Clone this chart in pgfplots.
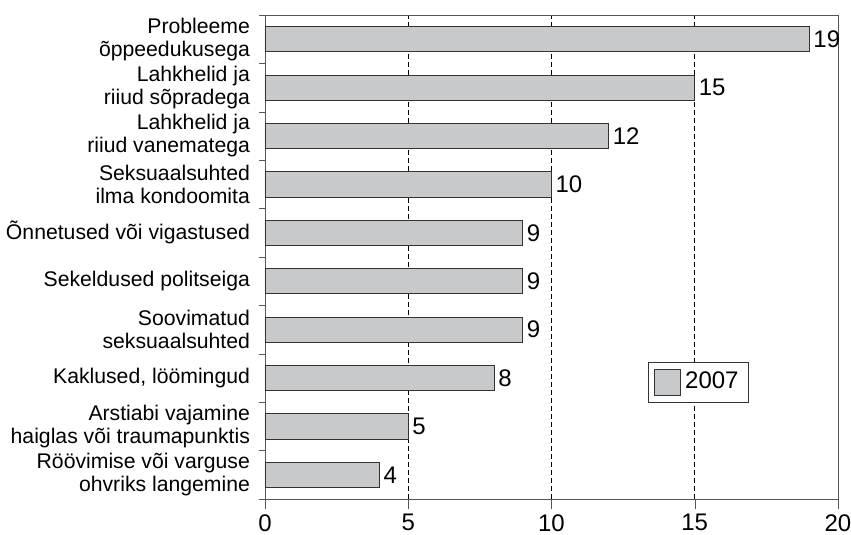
\documentclass[border=0pt]{standalone}
\usepackage{pgfplots}
\pgfplotsset{compat=1.18}
\usepackage{fontspec}
\setmainfont{Liberation Sans}
\definecolor{barfill}{RGB}{200,201,202}
\definecolor{frame}{RGB}{85,85,85}
\begin{document}
\begin{tikzpicture}
\begin{axis}[
  scale only axis,
  width=286.5pt, height=242pt,
  xmin=0, xmax=20,
  ymin=-0.5, ymax=9.5,
  xtick={0,5,...,20},
  xmajorgrids,
  major grid style={black, dash pattern=on 2.5pt off 1.5pt},
  axis line style={frame},
  major tick length=5pt,
  xtick style={frame},
  tick align=outside,
  xtick pos=bottom,
  ytick={0,...,9},
  ytick style={draw=none},
  yticklabels={{Röövimise või varguse\\ohvriks langemine},
               {Arstiabi vajamine\\haiglas või traumapunktis},
               {Kaklused, löömingud},
               {Soovimatud\\seksuaalsuhted},
               {Sekeldused politseiga},
               {Õnnetused või vigastused},
               {Seksuaalsuhted\\ilma kondoomita},
               {Lahkhelid ja\\riiud vanematega},
               {Lahkhelid ja\\riiud sõpradega},
               {Probleeme\\õppeedukusega}},
  yticklabel style={align=right, font=\fontsize{10.6}{11.5}\selectfont, xshift=1pt},
  xticklabel style={font=\fontsize{12}{13}\selectfont, inner sep=0pt, yshift=-2.5pt},
  /pgf/number format/assume math mode=true,
  extra y ticks={-0.5,0.5,...,9.5},
  extra y tick labels={},
  extra y tick style={major tick length=3pt, ytick style={draw=frame}, tick align=outside, ytick pos=left},
  legend style={at={(0.7565,0.2417)}, anchor=center, draw=black!80,
    font=\fontsize{12}{13}\selectfont, inner sep=3pt},
  legend image code/.code={\draw[#1] (0pt,-6.5pt) rectangle (13pt,6.5pt);},
  nodes near coords,
  nodes near coords style={font=\fontsize{12}{13}\selectfont, anchor=west, xshift=-1.5pt},
  point meta=x,
]
\addplot[xbar, bar width=0.52, fill=barfill, draw=black!80] coordinates {
  (4,0) (5,1) (8,2) (9,3) (9,4) (9,5) (10,6) (12,7) (15,8) (19,9)
};
\addlegendentry{2007}
\end{axis}
\pgfresetboundingbox
\path[use as bounding box] ([xshift=-132.5pt, yshift=-17.5pt] current axis.south west)
  rectangle ([xshift=6.5pt, yshift=7.5pt] current axis.north east);
\end{tikzpicture}
\end{document}
